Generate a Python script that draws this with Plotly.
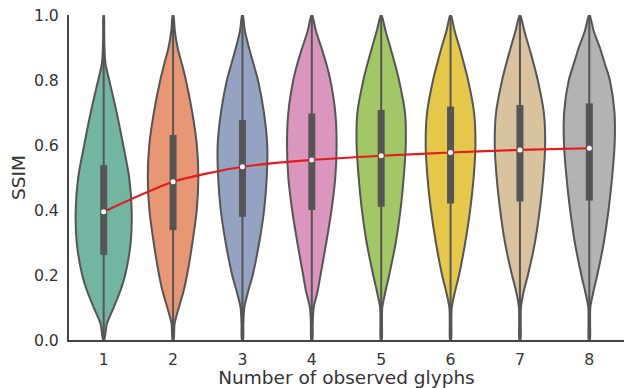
import colorsys
import plotly.graph_objects as go

# ---------------- data ----------------
categories = [1, 2, 3, 4, 5, 6, 7, 8]
ssim_levels = [0.0, 0.05, 0.1, 0.15, 0.2, 0.3, 0.4, 0.5, 0.6, 0.7, 0.8, 0.85, 0.9, 0.95, 1.0]

# relative density (violin half-width) at each SSIM level, one list per category
density_1 = [0.5, 3.2, 10.0, 16.5, 21.5, 27.0, 28.0, 25.5, 19.5, 13.0, 5.5, 1.8, 0.8, 0.5, 0.2]
density_2 = [0.5, 1.5, 5.8, 10.5, 14.0, 19.4, 23.7, 25.3, 23.8, 19.2, 12.8, 8.8, 4.5, 1.8, 0.3]
density_3 = [0.5, 0.9, 1.9, 5.8, 10.3, 16.8, 21.7, 24.3, 24.8, 21.5, 15.5, 11.0, 6.5, 2.5, 0.3]
density_4 = [0.5, 0.9, 1.9, 5.8, 8.7, 14.5, 19.7, 23.5, 24.8, 23.5, 18.5, 14.5, 9.5, 4.2, 0.3]
density_5 = [0.5, 0.8, 1.1, 4.3, 8.0, 14.6, 19.3, 22.5, 24.6, 23.8, 17.8, 13.7, 9.2, 4.5, 0.3]
density_6 = [0.5, 0.8, 1.2, 4.5, 8.5, 14.7, 19.6, 23.1, 24.9, 23.5, 17.5, 13.4, 9.0, 4.2, 0.3]
density_7 = [0.5, 0.8, 1.0, 3.8, 8.0, 15.0, 19.8, 23.3, 25.2, 23.9, 17.8, 13.7, 9.2, 4.5, 0.3]
density_8 = [0.5, 0.8, 1.0, 4.2, 8.0, 14.5, 19.2, 22.8, 25.3, 25.2, 20.5, 15.5, 10.5, 4.5, 0.3]
densities = [density_1, density_2, density_3, density_4,
             density_5, density_6, density_7, density_8]

q1 = [0.262, 0.338, 0.379, 0.400, 0.410, 0.420, 0.426, 0.429]
median = [0.395, 0.487, 0.533, 0.554, 0.567, 0.577, 0.585, 0.590]
q3 = [0.538, 0.631, 0.677, 0.697, 0.708, 0.718, 0.723, 0.728]
whisker_low = [0.0, 0.0, 0.0, 0.0, 0.0, 0.0, 0.0, 0.0]
whisker_high = [0.99, 1.0, 1.0, 1.0, 1.0, 1.0, 1.0, 1.0]

y_ticks = [0.0, 0.2, 0.4, 0.6, 0.8, 1.0]

# ---------------- styling ----------------
set2 = ["#66c2a5", "#fc8d62", "#8da0cb", "#e78ac3",
        "#a6d854", "#ffd92f", "#e5c494", "#b3b3b3"]


def desaturate(hex_color, prop):
    r, g, b = (int(hex_color[i:i + 2], 16) / 255 for i in (1, 3, 5))
    h, l, s = colorsys.rgb_to_hls(r, g, b)
    r, g, b = colorsys.hls_to_rgb(h, l, s * prop)
    return "#%02x%02x%02x" % (round(r * 255), round(g * 255), round(b * 255))


colors = [desaturate(c, 0.75) for c in set2]
edge = "#555555"
width_scale = 1 / 69.4  # density units -> category units

fig = go.Figure()

for cat, dens, col in zip(categories, densities, colors):
    right = [cat + d * width_scale for d in dens]
    left = [cat - d * width_scale for d in reversed(dens)]
    xs = right + left + [right[0]]
    ys = ssim_levels + list(reversed(ssim_levels)) + [ssim_levels[0]]
    fig.add_trace(go.Scatter(
        x=xs, y=ys, mode="lines", fill="toself", fillcolor=col,
        line=dict(color=edge, width=2, shape="spline", smoothing=0.8),
        hoverinfo="skip", showlegend=False))

for cat, lo, hi, a, b in zip(categories, whisker_low, whisker_high, q1, q3):
    fig.add_trace(go.Scatter(x=[cat, cat], y=[lo, hi], mode="lines",
                             line=dict(color=edge, width=2),
                             hoverinfo="skip", showlegend=False))
    fig.add_trace(go.Scatter(x=[cat, cat], y=[a, b], mode="lines",
                             line=dict(color=edge, width=7),
                             hoverinfo="skip", showlegend=False))

fig.add_trace(go.Scatter(x=categories, y=median, mode="lines",
                         line=dict(color="#e41a1c", width=2.2, shape="spline", smoothing=0.6),
                         showlegend=False))
fig.add_trace(go.Scatter(x=categories, y=median, mode="markers",
                         marker=dict(color="white", size=5),
                         showlegend=False))

font_family = "DejaVu Sans"
fig.update_layout(
    width=624, height=388,
    margin=dict(l=69, r=0, t=15, b=48),
    paper_bgcolor="white", plot_bgcolor="white",
    font=dict(family=font_family, size=15.7, color="#333333"),
    xaxis=dict(range=[0.5, 8.5], tickvals=categories, ticktext=[str(c) for c in categories],
               showgrid=False, zeroline=False, showline=True, linecolor="#444444", linewidth=2,
               ticks="outside", ticklen=4, tickcolor="rgba(0,0,0,0)",
               title=dict(text="Number of observed glyphs", font=dict(size=18.5), standoff=2)),
    yaxis=dict(range=[0, 1], tickvals=y_ticks, tickformat=".1f",
               showgrid=False, zeroline=False, showline=True, linecolor="#444444", linewidth=2,
               ticks="outside", ticklen=5, tickcolor="rgba(0,0,0,0)",
               title=dict(text="SSIM", font=dict(size=18.5), standoff=3)),
)

fig.write_html("out.html", config={"displayModeBar": False},
               post_script="document.body.style.margin='0';document.body.style.padding='0';")
